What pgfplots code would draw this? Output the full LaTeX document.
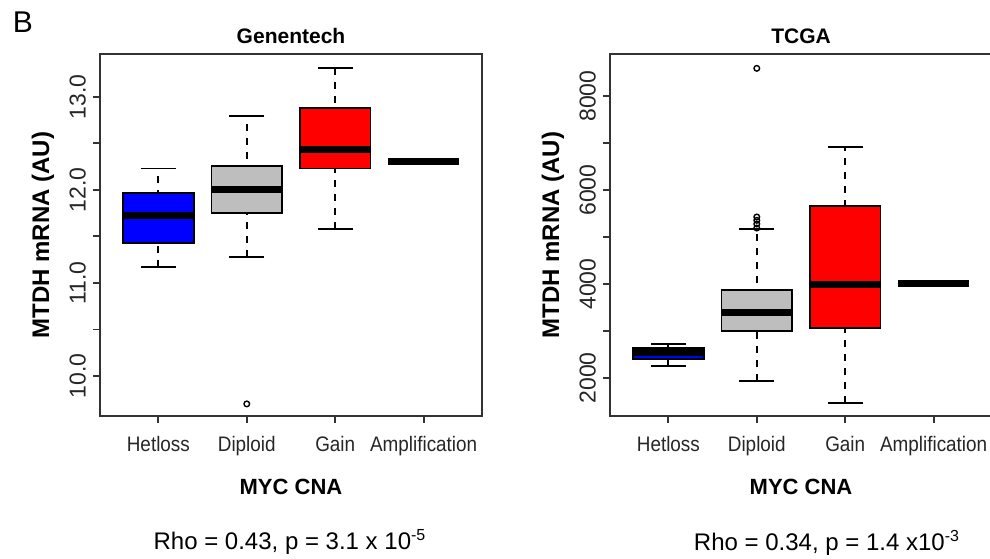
\documentclass[border=0pt]{standalone}
\usepackage{pgfplots}
\pgfplotsset{compat=1.18}
\usepackage{fontspec}
\setmainfont{Liberation Sans}
\newfontfamily\narrowfont[FakeStretch=0.9]{Liberation Sans}

\definecolor{rgrey}{RGB}{190,190,190}

% 1 x unit = 191pt / 4.32 = 44.2pt: box half width 0.4 -> 17.7pt, cap half width 0.2 -> 8.84pt
\pgfplotsset{
  rbox/.style={
    scale only axis,
    width=191pt, height=181pt,
    anchor=south west,
    xmin=0.34, xmax=4.66,
    axis line style={line width=0.9pt, black!80},
    tick pos=left,
    tick align=outside,
    major tick length=3.5pt,
    tick style={line width=0.9pt, black!80},
    xtick={1,2,3,4},
    xticklabels={Hetloss,Diploid,Gain,Amplification},
    x tick label style={font=\narrowfont\fontsize{10.5}{12}\selectfont, text=black!85, yshift=-3pt},
    y tick label style={rotate=90, anchor=south, font=\fontsize{11.5}{13}\selectfont, text=black!85},
    title style={at={(axis description cs:0.5,1.0166)}, anchor=center, font=\bfseries\fontsize{10.5}{12}\selectfont},
    xlabel style={at={(axis description cs:0.5,-0.196)}, anchor=center, font=\bfseries\fontsize{11}{13}\selectfont},
    ylabel style={at={(axis description cs:-0.1492,0.5)}, anchor=center, font=\bfseries\fontsize{12}{14}\selectfont},
    xlabel={MYC CNA},
    ylabel={MTDH mRNA (AU)},
  },
  whisk/.style={black, line width=0.9pt, dash pattern=on 3.5pt off 3.5pt, mark=none},
  caps/.style={only marks, mark=-, mark size=8.84pt, black, mark options={line width=0.9pt, solid}},
  bx/.style={draw=black, line width=0.9pt, fill=#1, mark=none},
  med/.style={only marks, mark=-, mark size=17.68pt, black, mark options={line width=3.5pt}},
  outl/.style={only marks, mark=o, mark size=1.4pt, black, mark options={line width=0.7pt}},
}

\begin{document}
\begin{tikzpicture}
\useasboundingbox (0,0) rectangle (495pt,279pt);

\node[font=\fontsize{15}{17}\selectfont] at (11.5pt,268pt) {B};

% Genentech
\begin{axis}[rbox, at={(50pt,71pt)},
  title={Genentech},
  ymin=9.57, ymax=13.46,
  ytick={10,10.5,11,11.5,12,12.5,13},
  yticklabels={10.0,,11.0,,12.0,,13.0},
]
% Hetloss
\addplot[whisk] coordinates {(1,11.17) (1,12.23)};
\addplot[caps] coordinates {(1,11.17) (1,12.23)};
\addplot[bx=blue] coordinates {(0.6,11.43) (1.4,11.43) (1.4,11.97) (0.6,11.97)} -- cycle;
\addplot[med] coordinates {(1,11.72)};
% Diploid
\addplot[whisk] coordinates {(2,11.28) (2,12.79)};
\addplot[caps] coordinates {(2,11.28) (2,12.79)};
\addplot[bx=rgrey] coordinates {(1.6,11.75) (2.4,11.75) (2.4,12.26) (1.6,12.26)} -- cycle;
\addplot[med] coordinates {(2,12.00)};
\addplot[outl] coordinates {(2,9.70)};
% Gain
\addplot[whisk] coordinates {(3,11.58) (3,13.31)};
\addplot[caps] coordinates {(3,11.58) (3,13.31)};
\addplot[bx=red] coordinates {(2.6,12.23) (3.4,12.23) (3.4,12.88) (2.6,12.88)} -- cycle;
\addplot[med] coordinates {(3,12.43)};
% Amplification (single sample)
\addplot[med] coordinates {(4,12.30)};
\end{axis}

% TCGA
\begin{axis}[rbox, at={(305pt,71pt)},
  title={TCGA},
  ymin=1191, ymax=8894,
  ytick={2000,3000,4000,5000,6000,7000,8000},
  yticklabels={2000,,4000,,6000,,8000},
]
% Hetloss
\addplot[whisk] coordinates {(1,2255) (1,2723)};
\addplot[caps] coordinates {(1,2255) (1,2723)};
\addplot[bx=blue] coordinates {(0.6,2404) (1.4,2404) (1.4,2638) (0.6,2638)} -- cycle;
\addplot[med] coordinates {(1,2543)};
% Diploid
\addplot[whisk] coordinates {(2,1936) (2,5164)};
\addplot[caps] coordinates {(2,1936) (2,5164)};
\addplot[bx=rgrey] coordinates {(1.6,3000) (2.4,3000) (2.4,3872) (1.6,3872)} -- cycle;
\addplot[med] coordinates {(2,3404)};
\addplot[outl] coordinates {(2,5191) (2,5277) (2,5355) (2,5426) (2,8589)};
% Gain
\addplot[whisk] coordinates {(3,1468) (3,6915)};
\addplot[caps] coordinates {(3,1468) (3,6915)};
\addplot[bx=red] coordinates {(2.6,3064) (3.4,3064) (3.4,5660) (2.6,5660)} -- cycle;
\addplot[med] coordinates {(3,3979)};
% Amplification (single sample)
\addplot[med] coordinates {(4,4010)};
\end{axis}

\node[font=\fontsize{12}{14}\selectfont] at (145pt,8pt) {Rho = 0.43, p = 3.1 x 10\textsuperscript{-5}};
\node[font=\fontsize{12}{14}\selectfont] at (413.5pt,7.5pt) {Rho = 0.34, p = 1.4 x10\textsuperscript{-3}};
\end{tikzpicture}
\end{document}
